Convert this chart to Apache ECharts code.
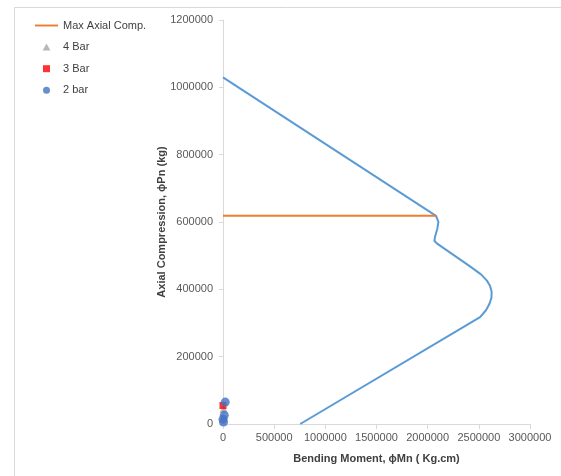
<!DOCTYPE html>
<html>
<head>
<meta charset="utf-8">
<script src="https://cdn.jsdelivr.net/npm/echarts@6/dist/echarts.min.js"></script>
<style>
html,body{margin:0;padding:0;background:#fff;}
#chart{width:561px;height:476px;}
</style>
</head>
<body>
<div id="chart"></div>
<script>
// Interaction curve (Bending moment, Axial compression)
const capacityM = [0, 2082000, 2105000, 2095000, 2072000, 2066000, 2089000, 2414000, 2521000, 2577000, 2609000, 2625000, 2623000, 2604000, 2570000, 2512000, 754600];
const capacityP = [1029600, 618300, 600600, 581000, 556200, 544400, 536700, 468000, 444400, 426600, 410400, 392600, 374800, 357100, 337900, 317200, 0];
// Max axial compression line
const maxAxialM = [0, 2082000];
const maxAxialP = [618300, 618300];
// Test points
const bar4M = [6000];
const bar4P = [45500];
const bar3M = [0];
const bar3P = [55000];
const bar2M = [22000, 12700, 0, 5000];
const bar2P = [65000, 25700, 13900, 5900];
// Axis ticks
const xTicks = [0, 500000, 1000000, 1500000, 2000000, 2500000, 3000000];
const yTicks = [0, 200000, 400000, 600000, 800000, 1000000, 1200000];

const zip = (a, b) => a.map((v, i) => [v, b[i]]);
const font = '"Liberation Sans", Arial, sans-serif';
const plain = v => String(Math.round(v));

const chart = echarts.init(document.getElementById('chart'), null, {renderer: 'canvas'});
chart.setOption({
  animation: false,
  backgroundColor: '#ffffff',
  textStyle: {fontFamily: font},
  grid: {left: 223, right: 31, top: 20, bottom: 52, containLabel: false},
  legend: {
    orient: 'vertical',
    left: 30,
    top: 15,
    itemWidth: 23,
    itemHeight: 7,
    itemGap: 10.6,
    symbolKeepAspect: true,
    textStyle: {fontFamily: font, fontSize: 11, color: '#404040'},
    data: [
      {name: 'Max Axial Comp.', icon: 'path://M0,0L24,0L24,2L0,2Z'},
      {name: '4 Bar', icon: 'path://M5,0L10,9L0,9Z'},
      {name: '3 Bar', icon: 'path://M0,0L6,0L6,6L0,6Z'},
      {name: '2 bar', icon: 'circle'}
    ]
  },
  xAxis: {
    type: 'value',
    min: xTicks[0],
    max: xTicks[xTicks.length - 1],
    interval: 500000,
    name: 'Bending Moment, ϕMn ( Kg.cm)',
    nameLocation: 'middle',
    nameGap: 29,
    nameMoveOverlap: false,
    nameTextStyle: {fontFamily: font, fontSize: 11, fontWeight: 'bold', color: '#404040'},
    axisLine: {show: true, lineStyle: {color: '#D9D9D9', width: 1}},
    axisTick: {show: true, length: 5, lineStyle: {color: '#D9D9D9'}},
    axisLabel: {fontFamily: font, fontSize: 11, color: '#595959', margin: 8, formatter: plain},
    splitLine: {show: false}
  },
  yAxis: {
    type: 'value',
    min: yTicks[0],
    max: yTicks[yTicks.length - 1],
    interval: 200000,
    name: 'Axial Compression, ϕPn (kg)',
    nameLocation: 'middle',
    nameGap: 56,
    nameMoveOverlap: false,
    nameTextStyle: {fontFamily: font, fontSize: 11, fontWeight: 'bold', color: '#404040'},
    axisLine: {show: true, lineStyle: {color: '#D9D9D9', width: 1}},
    axisTick: {show: true, length: 4, lineStyle: {color: '#D9D9D9'}},
    axisLabel: {fontFamily: font, fontSize: 11, color: '#595959', margin: 10, formatter: plain},
    splitLine: {show: false}
  },
  graphic: [
    {type: 'line', shape: {x1: 14, y1: 7.5, x2: 561, y2: 7.5}, style: {stroke: '#D9D9D9', lineWidth: 1}, silent: true},
    {type: 'line', shape: {x1: 14.5, y1: 7, x2: 14.5, y2: 476}, style: {stroke: '#D9D9D9', lineWidth: 1}, silent: true}
  ],
  series: [
    {
      name: 'Capacity',
      type: 'line',
      data: zip(capacityM, capacityP),
      smooth: false,
      symbol: 'none',
      lineStyle: {color: '#5B9BD5', width: 2, join: 'round'},
      itemStyle: {color: '#5B9BD5'},
      z: 2
    },
    {
      name: 'Max Axial Comp.',
      type: 'line',
      data: zip(maxAxialM, maxAxialP),
      symbol: 'none',
      lineStyle: {color: '#ED7D31', width: 2},
      itemStyle: {color: '#ED7D31'},
      z: 3
    },
    {
      name: '4 Bar',
      type: 'scatter',
      data: zip(bar4M, bar4P),
      symbol: 'triangle',
      symbolSize: 8,
      itemStyle: {color: '#A5A5A5'},
      z: 4
    },
    {
      name: '3 Bar',
      type: 'scatter',
      data: zip(bar3M, bar3P),
      symbol: 'rect',
      symbolSize: 7,
      itemStyle: {color: '#FF0000'},
      z: 5
    },
    {
      name: '2 bar',
      type: 'scatter',
      data: zip(bar2M, bar2P),
      symbol: 'circle',
      symbolSize: 9,
      itemStyle: {color: '#4472C4'},
      z: 6
    }
  ]
});
</script>
</body>
</html>
